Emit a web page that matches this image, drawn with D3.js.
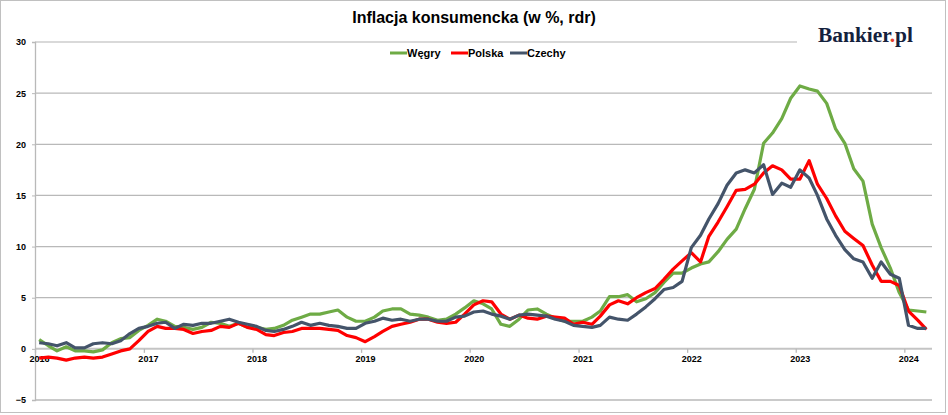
<!DOCTYPE html>
<html>
<head>
<meta charset="utf-8">
<script src="https://cdn.jsdelivr.net/npm/d3@7"></script>
<style>
  body { margin: 0; background: #fff; }
  svg { display: block; }
</style>
</head>
<body>
<svg id="chart"></svg>
<script>
// monthly CPI y/y, Jan 2016 - Mar 2024
var startYear = 2016;
var seriesNames = ["Węgry", "Polska", "Czechy"];
var seriesColors = ["#6eab45", "#ff0000", "#44546a"];

var hungary = [
  0.9, 0.3, -0.2, 0.2, -0.2, -0.2, -0.3, -0.1, 0.6, 1.0, 1.1, 1.8,
  2.3, 2.9, 2.7, 2.2, 2.1, 1.9, 2.1, 2.6, 2.5, 2.2, 2.5, 2.1,
  2.1, 1.9, 2.0, 2.3, 2.8, 3.1, 3.4, 3.4, 3.6, 3.8, 3.1, 2.7,
  2.7, 3.1, 3.7, 3.9, 3.9, 3.4, 3.3, 3.1, 2.8, 2.9, 3.4, 4.0,
  4.7, 4.4, 3.9, 2.4, 2.2, 2.9, 3.8, 3.9, 3.4, 3.0, 2.7, 2.7,
  2.7, 3.1, 3.7, 5.1, 5.1, 5.3, 4.6, 4.9, 5.5, 6.5, 7.4, 7.4,
  7.9, 8.3, 8.5, 9.5, 10.7, 11.7, 13.7, 15.6, 20.1, 21.1, 22.5, 24.5,
  25.7, 25.4, 25.2, 24.0, 21.5, 20.1, 17.6, 16.4, 12.2, 9.9, 7.9, 5.5,
  3.8, 3.7, 3.6
];
var poland = [
  -0.9, -0.8, -0.9, -1.1, -0.9, -0.8, -0.9, -0.8, -0.5, -0.2, 0.0, 0.8,
  1.7, 2.2, 2.0, 2.0, 1.9, 1.5, 1.7, 1.8, 2.2, 2.1, 2.5, 2.1,
  1.9, 1.4, 1.3, 1.6, 1.7, 2.0, 2.0, 2.0, 1.9, 1.8, 1.3, 1.1,
  0.7, 1.2, 1.7, 2.2, 2.4, 2.6, 2.9, 2.9, 2.6, 2.5, 2.6, 3.4,
  4.3, 4.7, 4.6, 3.4, 2.9, 3.3, 3.0, 2.9, 3.2, 3.1, 3.0, 2.4,
  2.6, 2.4, 3.2, 4.3, 4.7, 4.4, 5.0, 5.5, 5.9, 6.8, 7.8, 8.6,
  9.4, 8.5, 11.0, 12.4, 13.9, 15.5, 15.6, 16.1, 17.2, 17.9, 17.5, 16.6,
  16.6, 18.4, 16.1, 14.7, 13.0, 11.5, 10.8, 10.1, 8.2, 6.6, 6.6, 6.2,
  3.7, 2.8, 1.9
];
var czechia = [
  0.6, 0.5, 0.3, 0.6, 0.1, 0.1, 0.5, 0.6, 0.5, 0.8, 1.5, 2.0,
  2.2, 2.5, 2.6, 2.0, 2.4, 2.3, 2.5, 2.5, 2.7, 2.9, 2.6, 2.4,
  2.2, 1.8, 1.7, 1.9, 2.2, 2.6, 2.3, 2.5, 2.3, 2.2, 2.0, 2.0,
  2.5, 2.7, 3.0, 2.8, 2.9, 2.7, 2.9, 2.9, 2.7, 2.7, 3.1, 3.2,
  3.6, 3.7, 3.4, 3.2, 2.9, 3.3, 3.4, 3.3, 3.2, 2.9, 2.7, 2.3,
  2.2, 2.1, 2.3, 3.1, 2.9, 2.8, 3.4, 4.1, 4.9, 5.8, 6.0, 6.6,
  9.9, 11.1, 12.7, 14.2, 16.0, 17.2, 17.5, 17.2, 18.0, 15.1, 16.2, 15.8,
  17.5, 16.7, 15.0, 12.7, 11.1, 9.7, 8.8, 8.5, 6.9, 8.5, 7.3, 6.9,
  2.3, 2.0, 2.0
];
var yTicks = [-5, 0, 5, 10, 15, 20, 25, 30];
var yearTicks = [2016, 2017, 2018, 2019, 2020, 2021, 2022, 2023, 2024];

var W = 948, H = 415;
var margin = { top: 42, right: 16, bottom: 15, left: 35 },
  width = W - margin.left - margin.right,
  height = H - margin.top - margin.bottom;

var svg = d3.select("#chart").attr("width", W).attr("height", H);

// outer frame
svg.append("rect")
  .attr("x", 0.5).attr("y", 0.5)
  .attr("width", W - 3).attr("height", H - 3)
  .attr("fill", "#fff").attr("stroke", "#c0c0c0");

var g = svg.append("g")
  .attr("transform", "translate(" + margin.left + "," + margin.top + ")");

var x = d3.scaleTime()
  .domain([new Date(2016, 0, 1), new Date(2024, 3, 3)])
  .range([0, width]);
var y = d3.scaleLinear().domain([-5, 30]).range([height, 0]);

// horizontal grid
g.selectAll(".grid")
  .data(yTicks)
  .enter().append("line")
  .attr("x1", 0).attr("x2", width)
  .attr("y1", function (d) { return y(d); })
  .attr("y2", function (d) { return y(d); })
  .attr("stroke", function (d) { return d === 30 ? "#d9d9d9" : (d === 0 ? "#c4c4c4" : "#b9b9b9"); })
  .attr("stroke-width", function (d) { return d === 30 || d === 0 ? 2 : 1.3; });

// y axis
var yAxis = g.append("g")
  .call(d3.axisLeft(y).tickValues(yTicks).tickSize(3).tickPadding(6));
yAxis.select(".domain").attr("stroke", "#b9b9b9").attr("stroke-width", 1.3);
yAxis.selectAll(".tick line").attr("stroke", "#b9b9b9");
yAxis.selectAll("text")
  .attr("font-family", "Liberation Sans, Arial, sans-serif")
  .attr("font-weight", "bold").attr("font-size", 9).attr("fill", "#000");

// x axis on the zero line
var xAxis = g.append("g")
  .attr("transform", "translate(0," + y(0) + ")")
  .call(d3.axisBottom(x)
    .tickValues(yearTicks.map(function (yr) { return new Date(yr, 0, 1); }))
    .tickFormat(d3.timeFormat("%Y"))
    .tickSize(4).tickPadding(3));
xAxis.select(".domain").remove();
xAxis.selectAll(".tick line").attr("stroke", "#b9b9b9").attr("stroke-width", 1.3);
xAxis.selectAll("text")
  .attr("dx", 4)
  .attr("font-family", "Liberation Sans, Arial, sans-serif")
  .attr("font-weight", "bold").attr("font-size", 9).attr("fill", "#000");

// lines
var allSeries = [hungary, poland, czechia];
var line = d3.line()
  .x(function (d, i) { return x(new Date(startYear, i, 15)); })
  .y(function (d) { return y(d); });

g.selectAll(".series")
  .data(allSeries)
  .enter().append("path")
  .attr("class", "series")
  .attr("d", line)
  .attr("fill", "none")
  .attr("stroke", function (d, i) { return seriesColors[i]; })
  .attr("stroke-width", 3.2)
  .attr("stroke-linejoin", "round");

// title
svg.append("text")
  .attr("x", 474).attr("y", 23)
  .attr("text-anchor", "middle")
  .attr("font-family", "Liberation Sans, Arial, sans-serif")
  .attr("font-weight", "bold").attr("font-size", 16)
  .text("Inflacja konsumencka (w %, rdr)");

// legend
var legendX = [390, 451, 510];
var legend = svg.selectAll(".legend")
  .data(seriesNames)
  .enter().append("g")
  .attr("transform", function (d, i) { return "translate(" + legendX[i] + ",53)"; });
legend.append("line")
  .attr("x1", 0).attr("x2", 17)
  .attr("stroke", function (d, i) { return seriesColors[i]; })
  .attr("stroke-width", 3);
legend.append("text")
  .attr("x", 17).attr("y", 4)
  .attr("font-family", "Liberation Sans, Arial, sans-serif")
  .attr("font-weight", "bold").attr("font-size", 11)
  .text(function (d) { return d; });

// logo
svg.append("rect")
  .attr("x", 797).attr("y", 26).attr("width", 136).attr("height", 22)
  .attr("fill", "#fff");
var logo = svg.append("text")
  .attr("x", 818).attr("y", 42)
  .attr("font-family", "Liberation Serif, serif")
  .attr("font-weight", "bold").attr("font-size", 20)
  .attr("fill", "#14213d")
  .attr("textLength", 95).attr("lengthAdjust", "spacingAndGlyphs");
logo.append("tspan").text("Bankier");
logo.append("tspan").attr("fill", "#e8432d").text(".");
logo.append("tspan").text("pl");
</script>
</body>
</html>
